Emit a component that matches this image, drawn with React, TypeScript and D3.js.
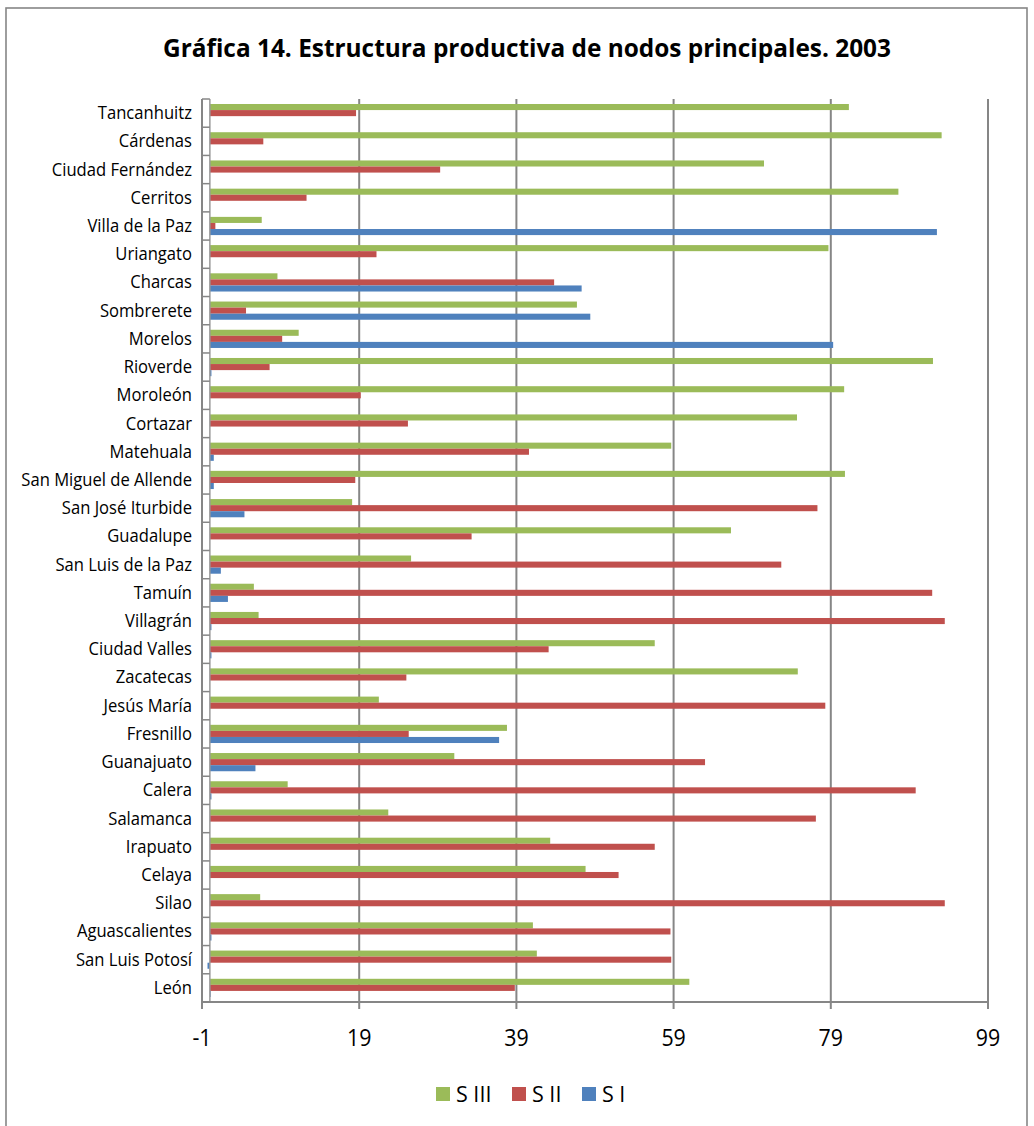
import React from "react";
import * as d3 from "d3";

const categories = [
  "Tancanhuitz", "Cárdenas", "Ciudad Fernández", "Cerritos", "Villa de la Paz",
  "Uriangato", "Charcas", "Sombrerete", "Morelos", "Rioverde", "Moroleón",
  "Cortazar", "Matehuala", "San Miguel de Allende", "San José Iturbide",
  "Guadalupe", "San Luis de la Paz", "Tamuín", "Villagrán", "Ciudad Valles",
  "Zacatecas", "Jesús María", "Fresnillo", "Guanajuato", "Calera", "Salamanca",
  "Irapuato", "Celaya", "Silao", "Aguascalientes", "San Luis Potosí", "León",
];

const sIII = [81.3, 93.1, 70.5, 87.6, 6.6, 78.7, 8.6, 46.7, 11.3, 92.0, 80.7, 74.7, 58.7, 80.8, 18.1, 66.3, 25.6, 5.6, 6.2, 56.6, 74.8, 21.5, 37.8, 31.1, 9.9, 22.7, 43.3, 47.8, 6.4, 41.1, 41.6, 61.0];
const sII = [18.6, 6.8, 29.3, 12.3, 0.7, 21.2, 43.8, 4.6, 9.2, 7.6, 19.2, 25.2, 40.6, 18.5, 77.3, 33.3, 72.7, 91.9, 93.5, 43.1, 25.0, 78.3, 25.3, 63.0, 89.8, 77.1, 56.6, 52.0, 93.5, 58.6, 58.7, 38.8];
const sI = [0, 0, 0, 0, 92.5, 0, 47.3, 48.4, 79.3, 0.2, 0, 0, 0.5, 0.5, 4.4, 0, 1.4, 2.3, 0.2, 0.2, 0, 0, 36.8, 5.8, 0.2, 0, 0, 0, 0, 0.2, -0.3, 0.1];

const tickValues = [-1, 19, 39, 59, 79, 99];
const seriesNames = ["S III", "S II", "S I"];
const seriesColors = ["#9BBB59", "#C0504D", "#4F81BD"];

const FONT = "'Open Sans', 'DejaVu Sans', sans-serif";
const GRID = "#868686";

export default function App() {
  const W = 1034;
  const H = 1126;
  const plotTop = 99;
  const plotBottom = 1002;
  const x = d3.scaleLinear().domain([-1, 99]).range([202, 988]);
  const y = d3.scaleBand<string>().domain(categories).range([plotTop, plotBottom]).padding(0);
  const band = y.bandwidth();
  const barH = band * 0.215;
  const groupOff = (band - 3 * barH) / 2;
  const series = [sIII, sII, sI];
  const x0 = x(0);

  return (
    <svg
      width={W}
      height={H}
      style={{ position: "absolute", left: 0, top: 0, background: "#fff" }}
      fontFamily={FONT}
    >
      <rect x={0} y={0} width={W} height={H} fill="#fff" />
      <rect x={6} y={8} width={1021} height={1200} fill="none" stroke={GRID} strokeWidth={1.6} />

      <text
        x={527}
        y={57}
        textAnchor="middle"
        fontSize={25}
        fontWeight="bold"
        textLength={728}
        lengthAdjust="spacingAndGlyphs"
        fill="#000"
      >
        Gráfica 14. Estructura productiva de nodos principales. 2003
      </text>

      {/* vertical gridlines */}
      {tickValues.map((t) => (
        <line key={"g" + t} x1={x(t)} x2={x(t)} y1={plotTop} y2={plotBottom + 7} stroke={GRID} strokeWidth={2} />
      ))}

      {/* bars */}
      {categories.map((c, i) =>
        series.map((s, k) => {
          const v = s[i];
          if (v === 0) return null;
          const xa = x(Math.min(0, v));
          const xb = x(Math.max(0, v));
          return (
            <rect
              key={c + k}
              x={xa}
              y={(y(c) as number) + groupOff + k * barH}
              width={Math.max(0.6, xb - xa)}
              height={barH}
              fill={seriesColors[k]}
            />
          );
        })
      )}

      {/* category axis at 0 */}
      <line x1={x0} x2={x0} y1={plotTop} y2={plotBottom} stroke="#9a9a9a" strokeWidth={1.5} />
      {d3.range(categories.length + 1).map((k) => {
        const yy = plotTop + k * band;
        return <line key={"ct" + k} x1={x(-1)} x2={x0} y1={yy} y2={yy} stroke={GRID} strokeWidth={1.5} />;
      })}

      {/* x axis */}
      <line x1={x(-1)} x2={x(99)} y1={plotBottom} y2={plotBottom} stroke={GRID} strokeWidth={2} />

      {/* category labels */}
      {categories.map((c) => {
        const cy = (y(c) as number) + band / 2;
        return (
          <text
            key={"l" + c}
            transform={`translate(192,${cy + 6}) scale(0.95,1)`}
            textAnchor="end"
            fontSize={17.5}
            fill="#000"
          >
            {c}
          </text>
        );
      })}

      {/* tick labels */}
      {tickValues.map((t) => (
        <text
          key={"t" + t}
          transform={`translate(${x(t)},1046) scale(0.93,1)`}
          textAnchor="middle"
          fontSize={23}
          fill="#000"
        >
          {t}
        </text>
      ))}

      {/* legend */}
      {seriesNames.map((n, k) => {
        const lx = [436, 512, 582][k];
        return (
          <g key={"lg" + n}>
            <rect x={lx} y={1087} width={14} height={14} fill={seriesColors[k]} />
            <text x={lx + 20} y={1101.5} fontSize={21.5} fill="#000">
              {n}
            </text>
          </g>
        );
      })}
    </svg>
  );
}
